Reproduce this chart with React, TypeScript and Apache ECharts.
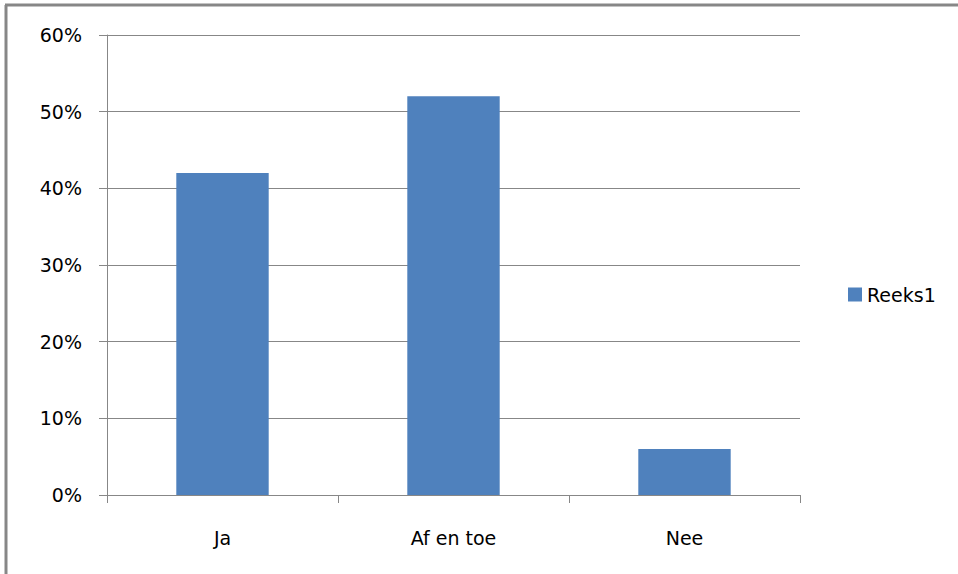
import React, { useEffect, useRef } from "react";
import * as echarts from "echarts";

const categories = ["Ja", "Af en toe", "Nee"];
const values = [0.42, 0.52, 0.06];
const seriesName = "Reeks1";

export default function App() {
  const ref = useRef<HTMLDivElement>(null);
  useEffect(() => {
    document.body.style.margin = "0";
    const chart = echarts.init(ref.current!, null, { renderer: "svg" });
    const gray = "#878787";
    const font = "DejaVu Sans";
    const fs = 19;
    chart.setOption({
      animation: false,
      backgroundColor: "#ffffff",
      textStyle: { fontFamily: font },
      grid: { left: 107, right: 158, top: 35, bottom: 79 },
      legend: {
        data: [seriesName],
        left: 843,
        top: 280,
        icon: "rect",
        itemWidth: 14,
        itemHeight: 14,
        itemGap: 8,
        textStyle: { fontSize: fs, color: "#000", fontFamily: font },
      },
      xAxis: {
        type: "category",
        data: categories,
        axisLine: { show: true, lineStyle: { color: gray, width: 1 } },
        axisTick: { show: true, alignWithLabel: false, length: 8, lineStyle: { color: gray } },
        axisLabel: { color: "#000", fontSize: fs, margin: 33, fontFamily: font },
      },
      yAxis: {
        type: "value",
        min: 0,
        max: 0.6,
        interval: 0.1,
        axisLine: { show: true, lineStyle: { color: gray, width: 1 } },
        axisTick: { show: true, length: 8, lineStyle: { color: gray } },
        splitLine: { show: true, lineStyle: { color: gray, width: 1 } },
        axisLabel: {
          color: "#000",
          fontSize: fs,
          margin: 25,
          fontFamily: font,
          formatter: (v: number) => Math.round(v * 100) + "%",
        },
      },
      series: [
        {
          name: seriesName,
          type: "bar",
          data: values,
          barWidth: "40%",
          itemStyle: { color: "#4F81BD" },
        },
      ],
      graphic: [
        {
          type: "line",
          shape: { x1: 6, y1: 5, x2: 6, y2: 574 },
          style: { stroke: gray, lineWidth: 3 },
        },
        {
          type: "line",
          shape: { x1: 5, y1: 5, x2: 958, y2: 5 },
          style: { stroke: gray, lineWidth: 3 },
        },
      ],
    });
    return () => chart.dispose();
  }, []);
  return (
    <div
      ref={ref}
      style={{ position: "fixed", left: 0, top: 0, width: 958, height: 574 }}
    />
  );
}
